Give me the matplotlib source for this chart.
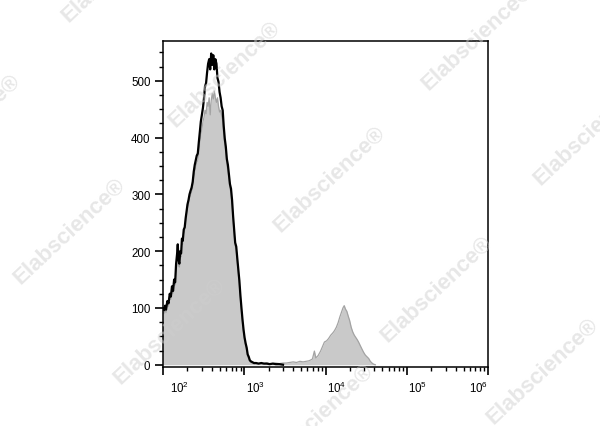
import numpy as np
import matplotlib
matplotlib.use("Agg")
import matplotlib.pyplot as plt
import matplotlib.ticker as ticker
import matplotlib.transforms as mtransforms

plt.rcParams["font.family"] = ["Liberation Sans", "DejaVu Sans"]
plt.rcParams["mathtext.fontset"] = "custom"
plt.rcParams["mathtext.rm"] = "Liberation Sans"
plt.rcParams["mathtext.it"] = "Liberation Sans"

# ── Data ──────────────────────────────────────────────────────────────────────
# stained sample (black outline)
black_x = [95, 99, 103, 106, 109, 113, 117, 121, 125, 129, 133, 137, 141, 145,
           149, 152, 155, 159, 163, 167, 171, 175, 180, 185, 190, 195, 200, 206,
           212, 218, 225, 232, 239, 246, 253, 260, 268, 276, 284, 292, 301, 310,
           319, 329, 339, 349, 359, 370, 381, 392, 404, 416, 428, 441, 455, 468,
           482, 497, 512, 527, 543, 559, 576, 593, 611, 629, 648, 667, 687, 708,
           729, 751, 773, 797, 820, 845, 871, 897, 924, 951, 980, 1009, 1039,
           1071, 1103, 1136, 1170, 1205, 1241, 1279, 1317, 1400, 1500, 1620,
           1750, 1900, 2050, 2250, 2450, 2700, 3000]
black_counts = [92, 100, 96, 104, 97, 112, 108, 125, 120, 138, 130, 150, 145,
                178, 195, 212, 185, 178, 200, 196, 222, 218, 238, 242, 258, 270,
                282, 290, 300, 306, 312, 322, 340, 352, 360, 368, 372, 392, 410,
                428, 440, 452, 468, 490, 496, 515, 530, 538, 520, 548, 528, 545,
                520, 538, 530, 505, 498, 480, 470, 455, 448, 420, 398, 384, 362,
                352, 335, 318, 310, 290, 262, 238, 215, 208, 188, 168, 148, 122,
                100, 80, 62, 48, 38, 30, 18, 14, 8, 6, 5, 4, 3, 3, 2, 3, 2, 2, 1,
                2, 1, 1, 0]

# control / isotype (grey filled)
gray_x = [95, 99, 103, 106, 109, 113, 117, 121, 125, 129, 133, 137, 141, 145,
          149, 152, 155, 159, 163, 167, 171, 175, 180, 185, 190, 195, 200, 206,
          212, 218, 225, 232, 239, 246, 253, 260, 268, 276, 284, 292, 301, 310,
          319, 329, 339, 349, 359, 370, 381, 392, 404, 416, 428, 441, 455, 468,
          482, 497, 512, 527, 543, 559, 576, 593, 611, 629, 648, 667, 687, 708,
          729, 751, 773, 797, 820, 845, 871, 897, 924, 951, 980, 1009, 1039,
          1071, 1103, 1136, 1170, 1205, 1241, 1279, 1317, 1400, 1500, 1620,
          1750, 1900, 2050, 2250, 2450, 2700, 3000, 3300, 3650, 4000, 4400,
          4850, 5300, 5800, 6300, 6900, 7300, 7600, 8100, 8700, 9300, 9700,
          10300, 10900, 11600, 12300, 12900, 13600, 14300, 15000, 15700, 16400,
          17000, 17600, 18300, 19000, 19800, 20700, 21600, 22600, 23600, 24600,
          25500, 26700, 28000, 29400, 30900, 32400, 34000, 35600, 37300, 39000,
          41000]
gray_counts = [86, 94, 90, 98, 92, 106, 103, 118, 115, 130, 126, 142, 140, 165,
               180, 192, 178, 172, 192, 190, 214, 212, 230, 236, 250, 262, 274,
               282, 292, 298, 304, 312, 328, 340, 348, 356, 360, 376, 390, 405,
               415, 428, 435, 448, 442, 462, 455, 470, 440, 465, 478, 468, 482,
               470, 462, 470, 455, 445, 448, 438, 430, 405, 388, 374, 352, 342,
               327, 311, 302, 282, 256, 232, 210, 202, 182, 162, 140, 116, 94,
               74, 56, 43, 33, 25, 15, 10, 6, 4, 3, 3, 2, 2, 2, 2, 2, 3, 2, 2, 3,
               2, 3, 3, 4, 5, 4, 6, 5, 6, 7, 10, 24, 12, 16, 24, 34, 40, 42, 46,
               52, 56, 60, 66, 74, 84, 92, 100, 104, 98, 94, 86, 78, 66, 58, 52,
               48, 44, 40, 34, 28, 22, 17, 14, 11, 6, 3, 1, 0]

y_ticks = [0, 100, 200, 300, 400, 500]
x_ticks = [1e2, 1e3, 1e4, 1e5, 1e6]
x_tick_labels = ["$10^{2}$", "$10^{3}$", "$10^{4}$", "$10^{5}$", "$10^{6}$"]

watermark = "Elabscience®"
wm_centers = [(330, 180), (225, 75), (478, 38), (118, -30), (-35, 128),
              (590, 133), (70, 232), (437, 290), (170, 332), (543, 372),
              (318, 418)]

# ── Figure ────────────────────────────────────────────────────────────────────
fig = plt.figure(figsize=(6.0, 4.27), dpi=100)
ax = fig.add_axes([163 / 600, 1 - 368 / 427, 325 / 600, 326 / 427])

ax.fill_between(gray_x, gray_counts, 0, color="#c9c9c9", linewidth=0, zorder=1)
ax.plot(gray_x, gray_counts, color="#a3a3a3", linewidth=0.9, zorder=2)
ax.plot(black_x, black_counts, color="black", linewidth=1.6, zorder=3)

ax.set_xscale("log")
ax.set_xlim(100, 1e6)
ax.set_ylim(-4, 570)

ax.yaxis.set_major_locator(ticker.FixedLocator(y_ticks))
ax.yaxis.set_minor_locator(ticker.MultipleLocator(25))
ax.set_xticks(x_ticks)
ax.set_xticklabels(x_tick_labels)
ax.xaxis.set_minor_locator(ticker.LogLocator(base=10, subs=np.arange(2, 10)))
ax.xaxis.set_minor_formatter(ticker.NullFormatter())

ax.tick_params(which="major", direction="out", length=6, width=1.2,
               labelsize=8.3, pad=3)
ax.tick_params(which="minor", direction="out", length=3, width=1.0)
ax.tick_params(top=False, right=False, which="both")
for sp in ax.spines.values():
    sp.set_linewidth(1.1)

# FlowJo-style label placement: labels start at the tick
xlabels = ax.get_xticklabels()
for i, lab in enumerate(xlabels):
    if i == len(xlabels) - 1:
        lab.set_ha("right")
    else:
        lab.set_ha("left")
        dx = 7 if i == 0 else 1.5
        lab.set_transform(lab.get_transform() +
                          mtransforms.ScaledTranslation(dx / 100, 0, fig.dpi_scale_trans))

# watermark
for cx, cy in wm_centers:
    fig.text(cx / 600, 1 - cy / 427, watermark, rotation=43,
             rotation_mode="anchor", ha="center", va="center",
             fontsize=16, fontweight="bold", color="#cfcfcf", alpha=0.5,
             zorder=10)

fig.savefig("out.png", dpi=100)
